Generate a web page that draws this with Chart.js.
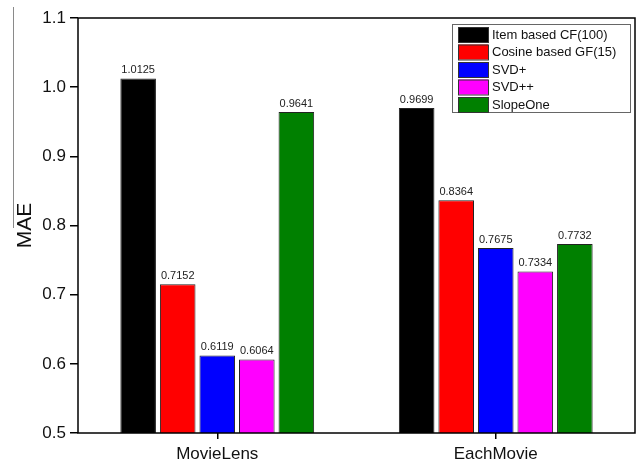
<!DOCTYPE html>
<html>
<head>
<meta charset="utf-8">
<script src="https://cdn.jsdelivr.net/npm/chart.js@4.4.1/dist/chart.umd.min.js"></script>
<style>
  html, body { margin: 0; padding: 0; background: #fff; }
  #wrap { width: 636px; height: 466px; position: relative; }
</style>
</head>
<body>
<div id="wrap"><canvas id="chart"></canvas></div>
<script>
const categories = ['MovieLens', 'EachMovie'];
const seriesNames = ['Item based CF(100)', 'Cosine based GF(15)', 'SVD+', 'SVD++', 'SlopeOne'];
const itemCF   = [1.0125, 0.9699];
const cosineGF = [0.7152, 0.8364];
const svdPlus  = [0.6119, 0.7675];
const svdPP    = [0.6064, 0.7334];
const slopeOne = [0.9641, 0.7732];
const seriesColors = ['#000000', '#ff0000', '#0000ff', '#ff00ff', '#008000'];
const yTicks = [0.5, 0.6, 0.7, 0.8, 0.9, 1.0, 1.1];

const FONT = 'Liberation Sans, Arial, sans-serif';

// frame around plot area + stray scan line at left
const framePlugin = {
  id: 'frame',
  afterDraw(chart) {
    const { ctx, chartArea: a } = chart;
    ctx.save();
    ctx.strokeStyle = '#000';
    ctx.lineWidth = 1.5;
    ctx.strokeRect(a.left, a.top, a.right - a.left, a.bottom - a.top);
    ctx.strokeStyle = '#8a8a8a';
    ctx.lineWidth = 1;
    ctx.beginPath();
    ctx.moveTo(13.5, 7);
    ctx.lineTo(13.5, 228);
    ctx.stroke();
    ctx.restore();
  }
};

// value labels above bars
const valuePlugin = {
  id: 'values',
  afterDatasetsDraw(chart) {
    const { ctx } = chart;
    ctx.save();
    ctx.font = '11px ' + FONT;
    ctx.fillStyle = '#222';
    ctx.textAlign = 'center';
    ctx.textBaseline = 'bottom';
    chart.data.datasets.forEach((ds, i) => {
      chart.getDatasetMeta(i).data.forEach((bar, j) => {
        ctx.fillText(ds.data[j].toFixed(4), bar.x, bar.y - 3);
      });
    });
    ctx.restore();
  }
};

// boxed legend inside the top-right corner
const legendPlugin = {
  id: 'boxLegend',
  afterDraw(chart) {
    const { ctx } = chart;
    const x0 = 452, y0 = 24, w = 178, h = 88, row = 17.5;
    ctx.save();
    ctx.fillStyle = '#fff';
    ctx.fillRect(x0, y0, w, h);
    ctx.strokeStyle = '#666';
    ctx.lineWidth = 1;
    ctx.strokeRect(x0 + 0.5, y0 + 0.5, w, h);
    ctx.font = '13px ' + FONT;
    ctx.textBaseline = 'middle';
    chart.data.datasets.forEach((ds, i) => {
      const cy = y0 + 10 + i * row;
      ctx.fillStyle = ds.backgroundColor;
      ctx.fillRect(458, cy - 7, 30, 15);
      ctx.strokeStyle = '#333';
      ctx.strokeRect(458.5, cy - 6.5, 30, 15);
      ctx.fillStyle = '#111';
      ctx.fillText(ds.label, 492, cy + 1);
    });
    ctx.restore();
  }
};

const allSeries = [itemCF, cosineGF, svdPlus, svdPP, slopeOne];

new Chart(document.getElementById('chart'), {
  type: 'bar',
  data: {
    labels: categories,
    datasets: allSeries.map((vals, i) => ({
      label: seriesNames[i],
      data: vals,
      backgroundColor: seriesColors[i],
      borderColor: '#222',
      borderWidth: 1,
      categoryPercentage: 0.71,
      barPercentage: 0.9,
    })),
  },
  options: {
    responsive: true,
    maintainAspectRatio: false,
    animation: false,
    layout: { padding: { top: 18, right: 1, left: 0, bottom: 0 } },
    plugins: {
      legend: { display: false },
      tooltip: { enabled: false },
    },
    scales: {
      x: {
        grid: { display: true, drawOnChartArea: false, offset: false, tickLength: 6, color: '#000', lineWidth: 1.5 },
        border: { display: false },
        ticks: { color: '#111', font: { family: FONT, size: 17 }, padding: 5 },
        afterFit(s) { s.height = 33; },
      },
      y: {
        min: 0.5,
        max: 1.1,
        afterBuildTicks(s) { s.ticks = yTicks.map(v => ({ value: v })); },
        grid: { display: true, drawOnChartArea: false, tickLength: 8, color: '#000', lineWidth: 1.5 },
        border: { display: false },
        ticks: {
          color: '#111',
          font: { family: FONT, size: 17 },
          padding: 4,
          callback: v => Number(v).toFixed(1),
        },
        title: { display: true, text: 'MAE', color: '#111', font: { family: FONT, size: 21 }, padding: { top: 13, bottom: 0 } },
        afterFit(s) { s.width = 78; },
      },
    },
  },
  plugins: [framePlugin, valuePlugin, legendPlugin],
});
</script>
</body>
</html>
